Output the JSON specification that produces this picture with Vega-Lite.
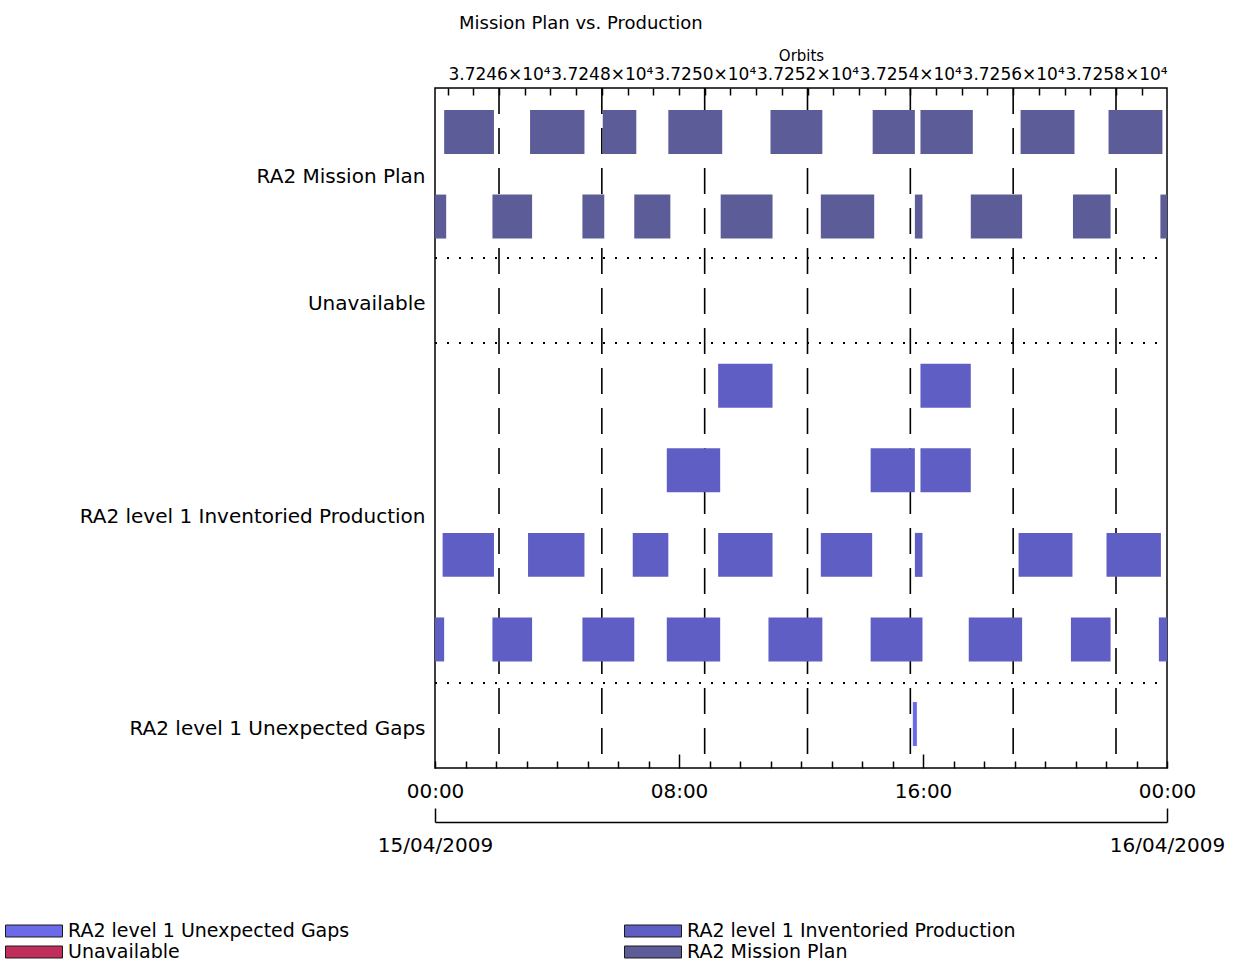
{
  "$schema": "https://vega.github.io/schema/vega-lite/v6.json",
  "width": 732,
  "height": 680,
  "autosize": {"type": "none"},
  "padding": {"left": 435, "top": 88, "right": 66, "bottom": 199},
  "background": "white",
  "config": {
    "font": "DejaVu Sans",
    "view": {"stroke": "black", "strokeWidth": 1.5},
    "axis": {"labelColor": "black", "titleColor": "black", "tickColor": "black", "domainColor": "black"}
  },
  "title": {"text": "Mission Plan vs. Production", "anchor": "start", "frame": "group", "dx": 24, "fontSize": 18, "fontWeight": "normal", "color": "black", "offset": 15},
  "layer": [
    {
      "data": {"values": [{"orbit": 37246}, {"orbit": 37248}, {"orbit": 37250}, {"orbit": 37252}, {"orbit": 37254}, {"orbit": 37256}, {"orbit": 37258}]},
      "mark": {"type": "rule", "strokeDash": [26, 14], "strokeWidth": 1.6, "color": "black"},
      "encoding": {
        "x": {
          "field": "orbit", "type": "quantitative",
          "scale": {"domain": [37244.755, 37258.992], "nice": false, "zero": false},
          "axis": {
            "orient": "top", "title": "Orbits", "titleFontSize": 15, "titleFontWeight": "normal", "titlePadding": 2,
            "values": [37245, 37245.5, 37246, 37246.5, 37247, 37247.5, 37248, 37248.5, 37249, 37249.5, 37250, 37250.5, 37251, 37251.5, 37252, 37252.5, 37253, 37253.5, 37254, 37254.5, 37255, 37255.5, 37256, 37256.5, 37257, 37257.5, 37258, 37258.5],
            "labelExpr": "datum.value % 2 == 0 ? format(datum.value / 10000, '.4f') + '×10⁴' : ''",
            "labelFontSize": 17, "labelOverlap": false, "labelFlush": false, "labelPadding": 12,
            "tickSize": -7, "tickWidth": 1.5, "domain": false, "grid": false
          }
        }
      }
    },
    {
      "data": {"values": [
        {"sep": 2, "from": "2009-04-15T00:00", "to": "2009-04-16T00:00"},
        {"sep": 3, "from": "2009-04-15T00:00", "to": "2009-04-16T00:00"},
        {"sep": 7, "from": "2009-04-15T00:00", "to": "2009-04-16T00:00"}
      ]},
      "mark": {"type": "rule", "strokeDash": [2, 10], "strokeWidth": 2, "color": "black"},
      "encoding": {
        "x": {
          "field": "from", "type": "temporal",
          "scale": {"domain": [{"year": 2009, "month": 4, "date": 15, "hours": 0}, {"year": 2009, "month": 4, "date": 16, "hours": 0}], "nice": false},
          "axis": {
            "orient": "bottom", "offset": 54, "title": null,
            "values": [{"year": 2009, "month": 4, "date": 15, "hours": 0}, {"year": 2009, "month": 4, "date": 16, "hours": 0}],
            "labelExpr": "timeFormat(datum.value, '%d/%m/%Y')",
            "tickSize": -14, "tickWidth": 1.5, "domain": true, "domainWidth": 1.5,
            "labelFontSize": 20, "labelFlush": false, "labelOverlap": false, "labelPadding": 27, "grid": false
          }
        },
        "x2": {"field": "to"},
        "y": {
          "field": "sep", "type": "quantitative",
          "scale": {"domain": [0, 8], "reverse": true, "nice": false, "zero": false},
          "axis": {
            "orient": "left", "title": null, "values": [1, 2.5, 5, 7.5],
            "labelExpr": "datum.value == 1 ? 'RA2 Mission Plan' : datum.value == 2.5 ? 'Unavailable' : datum.value == 5 ? 'RA2 level 1 Inventoried Production' : 'RA2 level 1 Unexpected Gaps'",
            "ticks": false, "domain": false, "grid": false, "labelFontSize": 20, "labelPadding": 10, "labelOffset": 3, "labelLimit": 0
          }
        }
      }
    },
    {
      "data": {"values": [
        {"lane": 0, "series": "RA2 Mission Plan", "start": "2009-04-15T00:18", "end": "2009-04-15T01:56"},
        {"lane": 0, "series": "RA2 Mission Plan", "start": "2009-04-15T03:07", "end": "2009-04-15T04:54"},
        {"lane": 0, "series": "RA2 Mission Plan", "start": "2009-04-15T05:30", "end": "2009-04-15T06:36"},
        {"lane": 0, "series": "RA2 Mission Plan", "start": "2009-04-15T07:39", "end": "2009-04-15T09:25"},
        {"lane": 0, "series": "RA2 Mission Plan", "start": "2009-04-15T11:00", "end": "2009-04-15T12:42"},
        {"lane": 0, "series": "RA2 Mission Plan", "start": "2009-04-15T14:21", "end": "2009-04-15T15:44"},
        {"lane": 0, "series": "RA2 Mission Plan", "start": "2009-04-15T15:55", "end": "2009-04-15T17:38"},
        {"lane": 0, "series": "RA2 Mission Plan", "start": "2009-04-15T19:12", "end": "2009-04-15T20:58"},
        {"lane": 0, "series": "RA2 Mission Plan", "start": "2009-04-15T22:05", "end": "2009-04-15T23:51"},
        {"lane": 1, "series": "RA2 Mission Plan", "start": "2009-04-15T00:00", "end": "2009-04-15T00:22"},
        {"lane": 1, "series": "RA2 Mission Plan", "start": "2009-04-15T01:53", "end": "2009-04-15T03:11"},
        {"lane": 1, "series": "RA2 Mission Plan", "start": "2009-04-15T04:50", "end": "2009-04-15T05:33"},
        {"lane": 1, "series": "RA2 Mission Plan", "start": "2009-04-15T06:32", "end": "2009-04-15T07:43"},
        {"lane": 1, "series": "RA2 Mission Plan", "start": "2009-04-15T09:22", "end": "2009-04-15T11:04"},
        {"lane": 1, "series": "RA2 Mission Plan", "start": "2009-04-15T12:39", "end": "2009-04-15T14:24"},
        {"lane": 1, "series": "RA2 Mission Plan", "start": "2009-04-15T15:44", "end": "2009-04-15T15:59"},
        {"lane": 1, "series": "RA2 Mission Plan", "start": "2009-04-15T17:34", "end": "2009-04-15T19:15"},
        {"lane": 1, "series": "RA2 Mission Plan", "start": "2009-04-15T20:55", "end": "2009-04-15T22:09"},
        {"lane": 1, "series": "RA2 Mission Plan", "start": "2009-04-15T23:47", "end": "2009-04-16T00:00"},
        {"lane": 3, "series": "RA2 level 1 Inventoried Production", "start": "2009-04-15T09:17", "end": "2009-04-15T11:04"},
        {"lane": 3, "series": "RA2 level 1 Inventoried Production", "start": "2009-04-15T15:55", "end": "2009-04-15T17:34"},
        {"lane": 4, "series": "RA2 level 1 Inventoried Production", "start": "2009-04-15T07:36", "end": "2009-04-15T09:21"},
        {"lane": 4, "series": "RA2 level 1 Inventoried Production", "start": "2009-04-15T14:17", "end": "2009-04-15T15:44"},
        {"lane": 4, "series": "RA2 level 1 Inventoried Production", "start": "2009-04-15T15:55", "end": "2009-04-15T17:34"},
        {"lane": 5, "series": "RA2 level 1 Inventoried Production", "start": "2009-04-15T00:15", "end": "2009-04-15T01:56"},
        {"lane": 5, "series": "RA2 level 1 Inventoried Production", "start": "2009-04-15T03:03", "end": "2009-04-15T04:54"},
        {"lane": 5, "series": "RA2 level 1 Inventoried Production", "start": "2009-04-15T06:29", "end": "2009-04-15T07:39"},
        {"lane": 5, "series": "RA2 level 1 Inventoried Production", "start": "2009-04-15T09:17", "end": "2009-04-15T11:04"},
        {"lane": 5, "series": "RA2 level 1 Inventoried Production", "start": "2009-04-15T12:39", "end": "2009-04-15T14:20"},
        {"lane": 5, "series": "RA2 level 1 Inventoried Production", "start": "2009-04-15T15:44", "end": "2009-04-15T15:59"},
        {"lane": 5, "series": "RA2 level 1 Inventoried Production", "start": "2009-04-15T19:08", "end": "2009-04-15T20:54"},
        {"lane": 5, "series": "RA2 level 1 Inventoried Production", "start": "2009-04-15T22:01", "end": "2009-04-15T23:48"},
        {"lane": 6, "series": "RA2 level 1 Inventoried Production", "start": "2009-04-15T00:00", "end": "2009-04-15T00:18"},
        {"lane": 6, "series": "RA2 level 1 Inventoried Production", "start": "2009-04-15T01:53", "end": "2009-04-15T03:11"},
        {"lane": 6, "series": "RA2 level 1 Inventoried Production", "start": "2009-04-15T04:50", "end": "2009-04-15T06:32"},
        {"lane": 6, "series": "RA2 level 1 Inventoried Production", "start": "2009-04-15T07:36", "end": "2009-04-15T09:21"},
        {"lane": 6, "series": "RA2 level 1 Inventoried Production", "start": "2009-04-15T10:56", "end": "2009-04-15T12:42"},
        {"lane": 6, "series": "RA2 level 1 Inventoried Production", "start": "2009-04-15T14:17", "end": "2009-04-15T15:59"},
        {"lane": 6, "series": "RA2 level 1 Inventoried Production", "start": "2009-04-15T17:30", "end": "2009-04-15T19:15"},
        {"lane": 6, "series": "RA2 level 1 Inventoried Production", "start": "2009-04-15T20:51", "end": "2009-04-15T22:09"},
        {"lane": 6, "series": "RA2 level 1 Inventoried Production", "start": "2009-04-15T23:44", "end": "2009-04-16T00:00"},
        {"lane": 7, "series": "RA2 level 1 Unexpected Gaps", "start": "2009-04-15T15:40", "end": "2009-04-15T15:48"}
      ]},
      "mark": {"type": "bar"},
      "encoding": {
        "x": {
          "field": "start", "type": "temporal",
          "scale": {"domain": [{"year": 2009, "month": 4, "date": 15, "hours": 0}, {"year": 2009, "month": 4, "date": 16, "hours": 0}], "nice": false},
          "axis": {
            "orient": "bottom", "title": null,
            "tickCount": 24,
            "labelExpr": "(timeFormat(datum.value, '%H') == '00' || timeFormat(datum.value, '%H') == '08' || timeFormat(datum.value, '%H') == '16') ? timeFormat(datum.value, '%H:%M') : ''",
            "tickSize": {"condition": {"test": "timeFormat(datum.value, '%H') == '08' || timeFormat(datum.value, '%H') == '16'", "value": -14}, "value": -7},
            "labelPadding": {"condition": {"test": "timeFormat(datum.value, '%H') == '08' || timeFormat(datum.value, '%H') == '16'", "value": 27}, "value": 20},
            "tickWidth": 1.5, "labelFontSize": 20, "labelFlush": false, "labelOverlap": false,
            "domain": false, "grid": false
          }
        },
        "x2": {"field": "end"},
        "y": {
          "field": "lane", "type": "ordinal",
          "scale": {"domain": [0, 1, 2, 3, 4, 5, 6, 7], "paddingInner": 0.48, "paddingOuter": 0.26},
          "axis": null
        },
        "color": {
          "field": "series", "type": "nominal",
          "scale": {
            "domain": ["RA2 level 1 Unexpected Gaps", "Unavailable", "RA2 level 1 Inventoried Production", "RA2 Mission Plan"],
            "range": ["#6b6bea", "#c22e5c", "#5e5ec4", "#5c5c99"]
          },
          "legend": {
            "orient": "none", "legendX": -411, "legendY": 833, "columns": 2, "title": null,
            "symbolType": "M-3,-0.63H3V0.63H-3Z", "symbolSize": 361,
            "symbolStrokeColor": "#1a1a1a", "symbolStrokeWidth": 1, "symbolOpacity": 1,
            "labelFontSize": 19, "labelOffset": 24, "labelColor": "black", "labelLimit": 0,
            "columnPadding": 272, "rowPadding": 1
          }
        }
      }
    }
  ],
  "resolve": {"scale": {"x": "independent", "y": "independent"}}
}
